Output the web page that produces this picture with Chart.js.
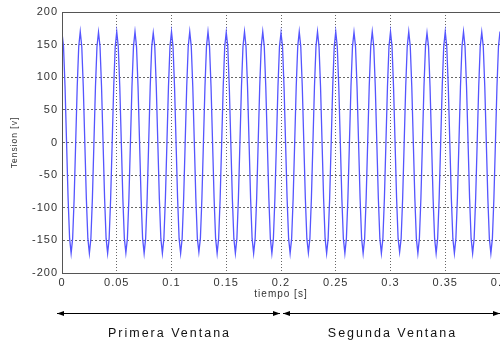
<!DOCTYPE html>
<html>
<head>
<meta charset="utf-8">
<script src="https://cdn.jsdelivr.net/npm/chart.js@4"></script>
<style>
  html, body { margin: 0; padding: 0; background: #fff; overflow: hidden; }
  #wrap { width: 520px; height: 343px; }
</style>
</head>
<body>
<div id="wrap"><canvas id="chart" width="520" height="343"></canvas></div>
<script>
// voltage samples, 12 per 60 Hz cycle
const sampleRate = 720
const tensionV = [
  168, 147, 85, 0, -85, -147, -170, -147, -85, 0, 85, 147,
  170, 147, 85, 0, -85, -147, -170, -147, -85, 0, 85, 147,
  169, 147, 85, 0, -85, -147, -170, -147, -85, 0, 85, 147,
  170, 147, 85, 0, -85, -147, -169, -147, -85, 0, 85, 147,
  170, 147, 85, 0, -85, -147, -170, -147, -85, 0, 85, 147,
  168, 147, 85, 0, -85, -147, -170, -147, -85, 0, 85, 147,
  170, 147, 85, 0, -85, -147, -170, -147, -85, 0, 85, 147,
  170, 147, 85, 0, -85, -147, -168, -147, -85, 0, 85, 147,
  170, 147, 85, 0, -85, -147, -170, -147, -85, 0, 85, 147,
  169, 147, 85, 0, -85, -147, -170, -147, -85, 0, 85, 147,
  170, 147, 85, 0, -85, -147, -170, -147, -85, 0, 85, 147,
  170, 147, 85, 0, -85, -147, -170, -147, -85, 0, 85, 147,
  168, 147, 85, 0, -85, -147, -170, -147, -85, 0, 85, 147,
  170, 147, 85, 0, -85, -147, -169, -147, -85, 0, 85, 147,
  170, 147, 85, 0, -85, -147, -170, -147, -85, 0, 85, 147,
  170, 147, 85, 0, -85, -147, -170, -147, -85, 0, 85, 147,
  169, 147, 85, 0, -85, -147, -170, -147, -85, 0, 85, 147,
  170, 147, 85, 0, -85, -147, -170, -147, -85, 0, 85, 147,
  170, 147, 85, 0, -85, -147, -168, -147, -85, 0, 85, 147,
  170, 147, 85, 0, -85, -147, -170, -147, -85, 0, 85, 147,
  168, 147, 85, 0, -85, -147, -170, -147, -85, 0, 85, 147,
  170, 147, 85, 0, -85, -147, -170, -147, -85, 0, 85, 147,
  170, 147, 85, 0, -85, -147, -170, -147, -85, 0, 85, 147,
  169, 147, 85, 0, -85, -147, -170, -147, -85, 0, 85, 147,
  170
]
const xTicks = [0, 0.05, 0.1, 0.15, 0.2, 0.25, 0.3, 0.35, 0.4]
const yTicks = [-200, -150, -100, -50, 0, 50, 100, 150, 200]
const windowNames = ["Primera Ventana", "Segunda Ventana"]
const windowEdges = [0, 0.2, 0.4]

const frameColor = "#555"
const gridColor = "#666"
const textColor = "#333"

// MATLAB-ish box around the axes plus the two window arrows under the plot
const figurePlugin = {
  id: "figure",
  beforeDraw(chart) {
    chart.ctx.letterSpacing = "1px"
  },
  afterDraw(chart) {
    const { ctx, chartArea, scales } = chart
    ctx.save()
    ctx.strokeStyle = frameColor
    ctx.lineWidth = 1
    ctx.strokeRect(Math.round(chartArea.left) + 0.5, Math.round(chartArea.top) + 0.5,
      Math.round(chartArea.right - chartArea.left), Math.round(chartArea.bottom - chartArea.top))

    const y = 313.5
    const arrow = (x, dir) => {
      ctx.beginPath()
      ctx.moveTo(x, y)
      ctx.lineTo(x - dir * 7, y - 2.5)
      ctx.lineTo(x - dir * 7, y + 2.5)
      ctx.closePath()
      ctx.fill()
    }
    ctx.strokeStyle = "#000"
    ctx.fillStyle = "#000"
    windowNames.forEach((name, i) => {
      const x1 = scales.x.getPixelForValue(windowEdges[i]) + (i === 0 ? -5 : 2)
      const x2 = scales.x.getPixelForValue(windowEdges[i + 1]) - (i === 0 ? 1 : 0)
      ctx.beginPath()
      ctx.moveTo(x1, y)
      ctx.lineTo(x2, y)
      ctx.stroke()
      arrow(x1, -1)
      arrow(x2, 1)

      ctx.letterSpacing = "2px"
      ctx.font = "12.5px 'Liberation Sans', Arial, sans-serif"
      ctx.fillStyle = "#111"
      ctx.textAlign = "center"
      ctx.textBaseline = "alphabetic"
      ctx.fillText(name, (x1 + x2) / 2 + 1, 337)
      ctx.fillStyle = "#000"
    })
    ctx.restore()
  }
}

const points = tensionV.map((v, i) => ({ x: i / sampleRate, y: v }))

new Chart(document.getElementById("chart"), {
  type: "line",
  data: {
    datasets: [{
      data: points,
      borderColor: "#5555ff",
      borderWidth: 1.3,
      pointRadius: 0,
      tension: 0,
      fill: false
    }]
  },
  options: {
    responsive: false,
    animation: false,
    events: [],
    layout: { padding: { left: 0, right: 20, top: 12, bottom: 0 } },
    plugins: {
      legend: { display: false },
      tooltip: { enabled: false }
    },
    scales: {
      x: {
        type: "linear",
        min: 0,
        max: 0.4,
        afterBuildTicks: scale => { scale.ticks = xTicks.map(v => ({ value: v })) },
        afterFit: scale => { scale.height = 70 },
        ticks: {
          color: textColor,
          font: { family: "'Liberation Sans', Arial, sans-serif", size: 11 },
          padding: 3,
          maxRotation: 0,
          autoSkip: false,
          callback: v => String(v)
        },
        grid: { color: gridColor, lineWidth: 1, drawTicks: false },
        border: { display: true, color: frameColor, dash: [1, 2] },
        title: {
          display: true,
          text: "tiempo [s]",
          color: textColor,
          font: { family: "'Liberation Sans', Arial, sans-serif", size: 10 },
          padding: { top: 0, bottom: 43 }
        }
      },
      y: {
        min: -200,
        max: 200,
        afterBuildTicks: scale => { scale.ticks = yTicks.map(v => ({ value: v })) },
        afterFit: scale => { scale.width = 62 },
        ticks: {
          color: textColor,
          font: { family: "'Liberation Sans', Arial, sans-serif", size: 11 },
          padding: 4,
          callback: v => String(v)
        },
        grid: { color: gridColor, lineWidth: 1, drawTicks: false },
        border: { display: true, color: frameColor, dash: [2, 2] },
        title: {
          display: true,
          text: "Tension [v]",
          color: textColor,
          font: { family: "'Liberation Sans', Arial, sans-serif", size: 8.5 },
          padding: { top: 10, bottom: 0 }
        }
      }
    }
  },
  plugins: [figurePlugin]
})
</script>
</body>
</html>
